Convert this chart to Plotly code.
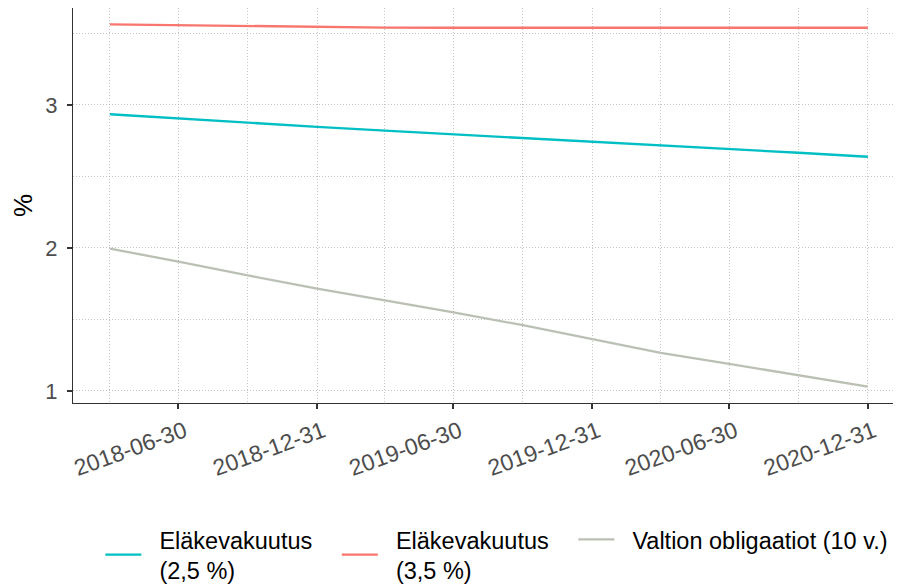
import plotly.graph_objects as go

dates = ["2018-03-31", "2018-06-30", "2018-09-30", "2018-12-31",
         "2019-03-31", "2019-06-30", "2019-09-30", "2019-12-31",
         "2020-03-31", "2020-06-30", "2020-09-30", "2020-12-31"]

elake_25 = [2.935, 2.905, 2.875, 2.847, 2.820, 2.795, 2.770, 2.745, 2.720, 2.693, 2.666, 2.638]
elake_35 = [3.564, 3.558, 3.549, 3.543, 3.541, 3.540, 3.540, 3.540, 3.540, 3.540, 3.540, 3.540]
valtio_10 = [1.995, 1.905, 1.808, 1.716, 1.633, 1.550, 1.460, 1.360, 1.266, 1.190, 1.112, 1.030]

NB = "\u00a0\u00a0"
TAIL = "\u00a0\u00a0\u00a0"
series_names = [NB + "Eläkevakuutus" + TAIL + "<br>" + NB + "(2,5 %)",
                NB + "Eläkevakuutus" + TAIL + "<br>" + NB + "(3,5 %)",
                NB + "Valtion obligaatiot (10 v.)"]
series_colors = ["#00BFC4", "#F8766D", "#BBC0B4"]

x_ticks = ["2018-06-30", "2018-12-31", "2019-06-30", "2019-12-31", "2020-06-30", "2020-12-31"]
x_minor = ["2018-03-31", "2018-09-30", "2019-03-31", "2019-09-30", "2020-03-31", "2020-09-30"]

fig = go.Figure()
for name, vals, col in zip(series_names, [elake_25, elake_35, valtio_10], series_colors):
    fig.add_trace(go.Scatter(x=dates, y=vals, mode="lines", name=name,
                             line=dict(color=col, width=2.3)))

font = "Liberation Sans, Arial, sans-serif"
grid = dict(showgrid=True, gridcolor="#C4C4C4", griddash="1px,2px", gridwidth=1)
# the page body adds an 8px offset, so the figure is 8px smaller on each axis
fig.update_layout(
    width=893, height=576,
    margin=dict(l=65, r=0, t=0, b=181, autoexpand=False),
    plot_bgcolor="white", paper_bgcolor="white",
    font=dict(family=font, color="#000000"),
    showlegend=True,
    legend=dict(orientation="h", x=0.033, xanchor="left", y=-0.385, yanchor="middle",
                font=dict(size=23.5, color="#000000", family=font),
                itemwidth=36, valign="middle",
                bgcolor="rgba(0,0,0,0)"),
)
fig.update_xaxes(
    type="date", range=["2018-02-10", "2021-02-13"], automargin=False,
    tickmode="array", tickvals=x_ticks, ticktext=x_ticks,
    tickangle=-20, tickfont=dict(size=23, color="#4D4D4D", family=font),
    ticklabelshift=6,
    ticks="outside", ticklen=5, tickwidth=1.5, tickcolor="#333333",
    showline=True, linecolor="#333333", linewidth=1.3, mirror=True,
    minor=dict(tickmode="array", tickvals=x_minor, ticks="", **grid),
    zeroline=False, **grid,
)
fig.update_yaxes(
    range=[0.916, 3.678], tickmode="linear", tick0=1, dtick=1, automargin=False,
    tickfont=dict(size=22, color="#4D4D4D", family=font),
    ticks="outside", ticklen=5, tickwidth=1.5, tickcolor="#333333", ticklabelstandoff=5,
    showline=True, linecolor="#333333", linewidth=1.3, mirror=True,
    minor=dict(dtick=0.5, tick0=0.5, ticks="", **grid),
    zeroline=False, **grid,
    title=dict(text="%", font=dict(size=26, color="#000000", family=font), standoff=10),
)

fig.write_html("out.html")
